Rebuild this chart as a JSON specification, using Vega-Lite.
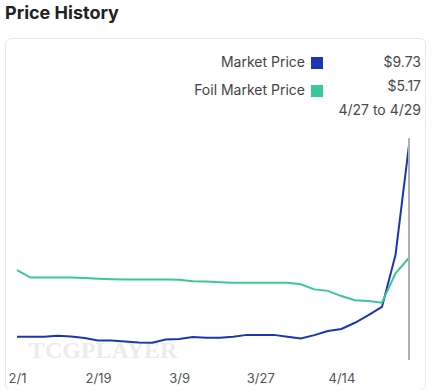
{
  "$schema": "https://vega.github.io/schema/vega-lite/v6.json",
  "width": 420,
  "height": 352,
  "autosize": "none",
  "padding": {"left": 5, "top": 38, "right": 7, "bottom": 0},
  "background": "white",
  "title": {"text": "Price History", "anchor": "start", "font": "Inter", "fontSize": 18, "fontWeight": 700, "color": "#222222", "baseline": "alphabetic", "offset": 1},
  "config": {
    "view": {"stroke": "#e6e6e6", "strokeWidth": 1, "cornerRadius": 6},
    "axisX": {"title": null, "grid": false, "domain": false, "ticks": false, "labelFont": "Inter", "labelFontSize": 13, "labelColor": "#555555", "labelPadding": 2, "offset": -20, "labelFlush": false, "labelOverlap": false}
  },
  "data": {
    "values": [
      {"date": "2023-02-01", "series": "Market Price", "price": 1.97},
      {"date": "2023-02-04", "series": "Market Price", "price": 1.97},
      {"date": "2023-02-07", "series": "Market Price", "price": 1.97},
      {"date": "2023-02-10", "series": "Market Price", "price": 2.01},
      {"date": "2023-02-13", "series": "Market Price", "price": 1.98},
      {"date": "2023-02-16", "series": "Market Price", "price": 1.92},
      {"date": "2023-02-19", "series": "Market Price", "price": 1.82},
      {"date": "2023-02-22", "series": "Market Price", "price": 1.82},
      {"date": "2023-02-25", "series": "Market Price", "price": 1.78},
      {"date": "2023-02-28", "series": "Market Price", "price": 1.74},
      {"date": "2023-03-03", "series": "Market Price", "price": 1.73},
      {"date": "2023-03-06", "series": "Market Price", "price": 1.86},
      {"date": "2023-03-09", "series": "Market Price", "price": 1.88},
      {"date": "2023-03-12", "series": "Market Price", "price": 1.96},
      {"date": "2023-03-15", "series": "Market Price", "price": 1.93},
      {"date": "2023-03-18", "series": "Market Price", "price": 1.93},
      {"date": "2023-03-21", "series": "Market Price", "price": 1.97},
      {"date": "2023-03-24", "series": "Market Price", "price": 2.05},
      {"date": "2023-03-27", "series": "Market Price", "price": 2.05},
      {"date": "2023-03-30", "series": "Market Price", "price": 2.05},
      {"date": "2023-04-02", "series": "Market Price", "price": 1.97},
      {"date": "2023-04-05", "series": "Market Price", "price": 1.90},
      {"date": "2023-04-08", "series": "Market Price", "price": 2.04},
      {"date": "2023-04-11", "series": "Market Price", "price": 2.21},
      {"date": "2023-04-14", "series": "Market Price", "price": 2.29},
      {"date": "2023-04-17", "series": "Market Price", "price": 2.54},
      {"date": "2023-04-20", "series": "Market Price", "price": 2.85},
      {"date": "2023-04-23", "series": "Market Price", "price": 3.18},
      {"date": "2023-04-26", "series": "Market Price", "price": 5.28},
      {"date": "2023-04-29", "series": "Market Price", "price": 9.73},
      {"date": "2023-02-01", "series": "Foil Market Price", "price": 4.67},
      {"date": "2023-02-04", "series": "Foil Market Price", "price": 4.37},
      {"date": "2023-02-07", "series": "Foil Market Price", "price": 4.37},
      {"date": "2023-02-10", "series": "Foil Market Price", "price": 4.37},
      {"date": "2023-02-13", "series": "Foil Market Price", "price": 4.37},
      {"date": "2023-02-16", "series": "Foil Market Price", "price": 4.35},
      {"date": "2023-02-19", "series": "Foil Market Price", "price": 4.32},
      {"date": "2023-02-22", "series": "Foil Market Price", "price": 4.30},
      {"date": "2023-02-25", "series": "Foil Market Price", "price": 4.29},
      {"date": "2023-02-28", "series": "Foil Market Price", "price": 4.29},
      {"date": "2023-03-03", "series": "Foil Market Price", "price": 4.29},
      {"date": "2023-03-06", "series": "Foil Market Price", "price": 4.29},
      {"date": "2023-03-09", "series": "Foil Market Price", "price": 4.28},
      {"date": "2023-03-12", "series": "Foil Market Price", "price": 4.22},
      {"date": "2023-03-15", "series": "Foil Market Price", "price": 4.21},
      {"date": "2023-03-18", "series": "Foil Market Price", "price": 4.18},
      {"date": "2023-03-21", "series": "Foil Market Price", "price": 4.16},
      {"date": "2023-03-24", "series": "Foil Market Price", "price": 4.16},
      {"date": "2023-03-27", "series": "Foil Market Price", "price": 4.16},
      {"date": "2023-03-30", "series": "Foil Market Price", "price": 4.16},
      {"date": "2023-04-02", "series": "Foil Market Price", "price": 4.16},
      {"date": "2023-04-05", "series": "Foil Market Price", "price": 4.10},
      {"date": "2023-04-08", "series": "Foil Market Price", "price": 3.89},
      {"date": "2023-04-11", "series": "Foil Market Price", "price": 3.83},
      {"date": "2023-04-14", "series": "Foil Market Price", "price": 3.62},
      {"date": "2023-04-17", "series": "Foil Market Price", "price": 3.45},
      {"date": "2023-04-20", "series": "Foil Market Price", "price": 3.42},
      {"date": "2023-04-23", "series": "Foil Market Price", "price": 3.35},
      {"date": "2023-04-26", "series": "Foil Market Price", "price": 4.54},
      {"date": "2023-04-29", "series": "Foil Market Price", "price": 5.17}
    ]
  },
  "layer": [
    {
      "transform": [{"filter": "datum.series == 'Market Price' && time(datum.date) == 1676764800000"}],
      "mark": {"type": "text", "font": "Liberation Serif", "fontWeight": "bold", "fontSize": 24, "color": "#ececec", "align": "center", "baseline": "alphabetic", "dx": 5},
      "encoding": {
        "x": {"field": "date", "type": "temporal", "axis": {"values": [1675209600000, 1676764800000, 1678320000000, 1679875200000, 1681430400000], "labelExpr": "utcFormat(datum.value, '%-m/%-d')"}},
        "y": {"datum": 1.11, "type": "quantitative", "axis": null},
        "text": {"value": "TCGPLAYER"}
      }
    },
    {
      "mark": {"type": "line", "strokeWidth": 2},
      "encoding": {
        "x": {
          "field": "date", "type": "temporal",
          "scale": {"nice": false, "domain": [1674979500000, 1683033180000]},
          "axis": {"values": [1675209600000, 1676764800000, 1678320000000, 1679875200000, 1681430400000], "labelExpr": "utcFormat(datum.value, '%-m/%-d')"}
        },
        "y": {"field": "price", "type": "quantitative", "scale": {"domain": [-0.18, 14.06], "nice": false, "zero": false}, "axis": null},
        "color": {
          "field": "series", "type": "nominal",
          "scale": {"domain": ["Market Price", "Foil Market Price"], "range": ["#1b36b2", "#3cc69b"]},
          "legend": {
            "orient": "none", "legendX": 305, "legendY": 18, "title": null, "padding": 0,
            "symbolType": "square", "symbolSize": 4, "symbolStrokeWidth": 10, "symbolOpacity": 1,
            "labelAlign": "right", "labelOffset": -19, "labelFont": "Inter", "labelFontSize": 14, "labelColor": "#444444", "labelLimit": 300,
            "rowPadding": -18
          }
        }
      }
    },
    {
      "transform": [{"filter": "datum.series == 'Market Price' && time(datum.date) == 1682726400000"}],
      "mark": {"type": "rule", "color": "#b0b0b0", "strokeWidth": 2},
      "encoding": {
        "x": {"field": "date", "type": "temporal", "axis": {"values": [1675209600000, 1676764800000, 1678320000000, 1679875200000, 1681430400000], "labelExpr": "utcFormat(datum.value, '%-m/%-d')"}},
        "y": {"datum": 10.01, "type": "quantitative", "axis": null},
        "y2": {"datum": 1.03}
      }
    },
    {
      "data": {"values": [{"series": "Market Price", "current": "$9.73"}, {"series": "Foil Market Price", "current": "$5.17"}]},
      "mark": {"type": "point", "opacity": 0},
      "encoding": {
        "shape": {
          "field": "current", "type": "nominal",
          "scale": {"domain": ["$9.73", "$5.17", "4/27 to 4/29"], "range": ["square", "square", "square"]},
          "legend": {
            "orient": "none", "legendX": 402, "legendY": 18, "title": null, "padding": 0,
            "symbolSize": 144, "symbolOpacity": 0, "symbolStrokeWidth": 0,
            "labelAlign": "right", "labelOffset": 0, "labelFont": "Inter", "labelFontSize": 14, "labelColor": "#4a4a4a", "labelLimit": 200,
            "labelExpr": "datum.label == '4/27 to 4/29' ? datum.label : datum.label + '\u00a0\u00a0\u00a0'",
            "rowPadding": 10
          }
        }
      }
    }
  ]
}
